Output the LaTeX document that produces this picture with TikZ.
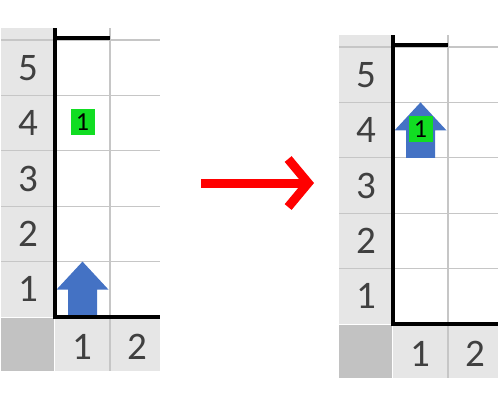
\documentclass[tikz,border=0pt]{standalone}
\usepackage{fontspec}
\setmainfont{Carlito}
\usetikzlibrary{arrows.meta}

\definecolor{hdrgray}{HTML}{E6E6E6}
\definecolor{cornergray}{HTML}{C2C2C2}
\definecolor{linegray}{HTML}{C6C6C6}
\definecolor{hdrtext}{HTML}{404040}
\definecolor{cellgreen}{HTML}{11DD22}
\definecolor{arrowblue}{HTML}{4472C4}

\newcommand{\rowh}{55.4}

\tikzset{
  hdrlabel/.style={font=\fontsize{39}{41}\selectfont, text=hdrtext, inner sep=0pt},
  gridline/.style={linegray, line width=1.3pt},
  edgeline/.style={black, line width=4pt},
  marker/.style={fill=cellgreen, font=\fontsize{26}{28}\selectfont,
    minimum width=24pt, minimum height=26pt, inner sep=0pt},
  moveline/.style={red, line width=9pt, -{Straight Barb[length=20pt, width=48pt]}},
  % one sheet, origin at the top-left corner of cell (1,5); #1 = row of the arrow
  pics/sheet/.style={code={
    % header cells
    \fill[hdrgray] (-54,-12) rectangle (-1,5*\rowh);
    \fill[hdrgray] (0,5*\rowh) rectangle (105,5*\rowh+54);
    \fill[cornergray] (-54,5*\rowh+1) rectangle (-1,5*\rowh+54);
    % grid
    \foreach \r in {0,...,4}
      \draw[gridline] (-54,\r*\rowh) -- (105,\r*\rowh);
    \draw[gridline] (55,-12) -- (55,5*\rowh+54);
    % robot arrow
    \pgfmathsetmacro{\yt}{(5-#1)*\rowh}
    \fill[arrowblue] (27.5,\yt) -- (53.5,\yt+28) -- (42,\yt+28) -- (42,\yt+\rowh)
      -- (13,\yt+\rowh) -- (13,\yt+28) -- (1.5,\yt+28) -- cycle;
    % walls
    \draw[edgeline] (0,-12) -- (0,5*\rowh+2);
    \draw[edgeline] (-2,5*\rowh) -- (105,5*\rowh);
    \draw[edgeline] (0,-2) -- (55,-2);
    % target
    \node[marker] (-goal) at (27.5,\rowh+27) {1};
    % labels
    \foreach \r in {1,...,5}
      \node[hdrlabel] (-row\r) at (-27,{(5.5-\r)*\rowh}) {\r};
    \node[hdrlabel] (-col1) at (27.5,5*\rowh+29.5) {1};
    \node[hdrlabel] (-col2) at (82.5,5*\rowh+29.5) {2};
  }}
}

\begin{document}
\begin{tikzpicture}[x=1pt, y=-1pt]
  \useasboundingbox (0,0) rectangle (500,400);

  % before and after
  \pic (L) at (55,40) {sheet=1};
  \pic (R) at (393,47) {sheet=4};

  % move
  \coordinate (start) at (201,183);
  \coordinate (end) at (314,183);
  \draw[moveline] (start) -- (end);
\end{tikzpicture}
\end{document}
